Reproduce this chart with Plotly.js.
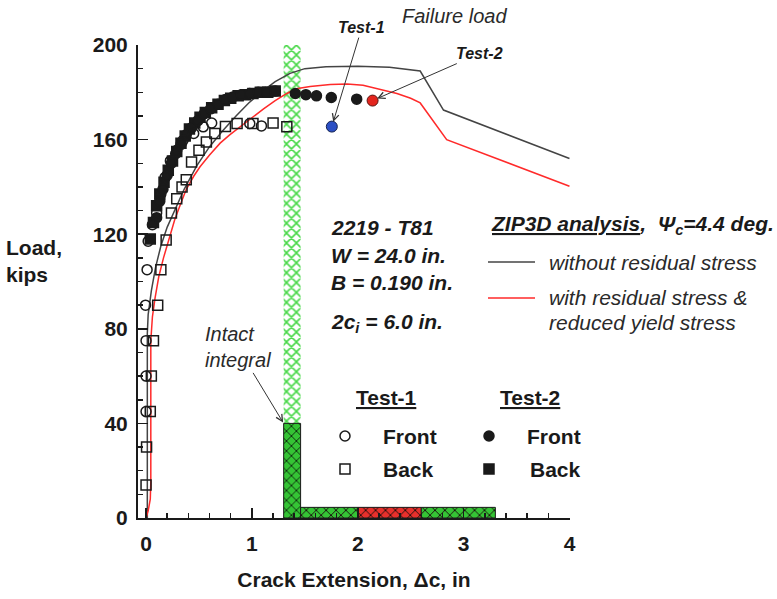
<!DOCTYPE html>
<html>
<head>
<meta charset="utf-8">
<script src="https://cdn.plot.ly/plotly-3.0.1.min.js"></script>
<style>
  html, body { margin: 0; padding: 0; background: #fff; }
  #chart { width: 777px; height: 599px; }
</style>
</head>
<body>
<div id="chart"></div>
<script>
// ---- ZIP3D analysis curves (crack extension in inches, load in kips) ----
const plainX = [0.012, 0.012, 0.02, 0.05, 0.09, 0.14, 0.2, 0.27, 0.36, 0.48, 0.6, 0.72, 0.85, 0.97, 1.1, 1.22, 1.36, 1.5, 1.7, 2.0, 2.3, 2.59, 2.81, 4.0];
const plainLoad = [0, 78, 86, 96, 106, 115, 123, 130, 139, 149, 157, 163.5, 170, 175.5, 180.5, 184.5, 188, 190, 190.8, 191, 190.6, 189, 172.5, 152];

const residualX = [0, 0.02, 0.04, 0.045, 0.045, 0.06, 0.085, 0.12, 0.165, 0.22, 0.27, 0.32, 0.38, 0.45, 0.51, 0.6, 0.7, 0.79, 0.89, 1.0, 1.11, 1.22, 1.33, 1.42, 1.55, 1.74, 1.9, 2.05, 2.2, 2.37, 2.5, 2.59, 2.84, 4.0];
const residualLoad = [0, 3, 8, 15, 75, 85, 93, 102, 110, 119, 126, 132, 139, 144.5, 148.5, 153.5, 158.5, 162, 165.5, 169.5, 173, 176.5, 179.5, 181.5, 182.5, 183.3, 183.5, 183, 181.5, 179.5, 177.5, 175.5, 160, 140.3];

// ---- Test data ----
const test1FrontX = [0.0, 0.0, 0.0, -0.005, 0.01, 0.02, 0.06, 0.1, 0.14, 0.18, 0.23, 0.29, 0.35, 0.45, 0.54, 0.62, 0.98, 1.09];
const test1FrontLoad = [45, 60, 75, 90, 105, 117, 124, 129, 137, 144, 151, 155.5, 159.7, 162.6, 165.4, 167, 166.8, 165.8];

const test1BackX = [0.0, 0.005, 0.04, 0.05, 0.07, 0.11, 0.14, 0.19, 0.24, 0.29, 0.34, 0.38, 0.43, 0.5, 0.57, 0.65, 0.75, 0.86, 1.01, 1.2, 1.33];
const test1BackLoad = [14, 30, 45, 60, 75, 90, 105, 117.5, 129, 135, 140, 143, 150.5, 155.5, 159, 162.6, 165.5, 166.8, 166.8, 167, 165.4];

const test2FrontX = [0.1, 0.13, 0.16, 0.2, 0.24, 0.28, 0.33, 0.38, 0.43, 0.49, 0.55, 0.61, 0.68, 0.75, 0.82, 0.9, 0.98, 1.06, 1.14, 1.22, 1.41, 1.51, 1.61, 1.75, 1.99];
const test2FrontLoad = [127, 134, 139, 145, 150, 154, 158, 162, 165, 168, 171, 173, 175, 177, 178, 179, 179.5, 180, 180, 180.5, 179.5, 179, 178.5, 177.8, 177.1];

const test2BackX = [0.04, 0.07, 0.1, 0.13, 0.17, 0.21, 0.25, 0.29, 0.33, 0.37, 0.41, 0.46, 0.51, 0.56, 0.62, 0.68, 0.74, 0.8, 0.87, 0.94, 1.01, 1.08, 1.15, 1.22];
const test2BackLoad = [118, 125, 132, 137, 142, 147, 151, 155, 158.5, 161.5, 164.5, 167, 169.5, 171.5, 173.5, 175, 176.5, 177.5, 178.5, 179, 179.5, 180, 180, 180.5];

// Failure loads
const failure1 = [1.755, 165.5];
const failure2 = [2.14, 176.5];

// ---- Fracture regions ----
const intactEdges = [1.30, 1.46];     // intact integral strip
const intactLoad = 40;
const bandEdges = [1.46, 2.0, 2.6, 3.3];
const bandColors = ['#35c435', '#e8302c', '#35c435'];
const bandLoad = 4.5;
const yMax = 200;

// ---- Tick labels ----
const xTicks = [0, 1, 2, 3, 4];
const yTicks = [0, 40, 80, 120, 160, 200];

// plot frame in pixels, used for placing text and keys
const FRAME = { l: 138, r: 570, t: 45, b: 518 };
const fx = px => (px - FRAME.l) / (FRAME.r - FRAME.l);
const fy = py => (FRAME.b - py) / (FRAME.b - FRAME.t);

const FONT = 'Liberation Sans, Arial, sans-serif';
const INK = '#1a1a1a';

function rect(x0, x1, y0, y1) {
  return { x: [x0, x1, x1, x0, x0], y: [y0, y0, y1, y1, y0] };
}

const traces = [];

// light hatched strip above the intact integral
const strip = rect(intactEdges[0], intactEdges[1], intactLoad, yMax);
traces.push({
  x: strip.x, y: strip.y, mode: 'lines', fill: 'toself', line: { width: 0, color: 'rgba(0,0,0,0)' },
  fillcolor: 'rgba(0,0,0,0)',
  fillpattern: { shape: 'x', fgcolor: '#48d848', bgcolor: '#ffffff', size: 7, solidity: 0.4 },
  hoverinfo: 'skip', showlegend: false
});

// intact integral bar
const intact = rect(intactEdges[0], intactEdges[1], 0, intactLoad);
traces.push({
  x: intact.x, y: intact.y, mode: 'lines', fill: 'toself', line: { width: 1, color: INK },
  fillcolor: 'rgba(0,0,0,0)',
  fillpattern: { shape: 'x', fgcolor: '#0d2a0d', bgcolor: '#35c435', size: 7, solidity: 0.25 },
  hoverinfo: 'skip', showlegend: false
});

// horizontal fracture bands
for (let i = 0; i < bandColors.length; i++) {
  const r = rect(bandEdges[i], bandEdges[i + 1], 0, bandLoad);
  traces.push({
    x: r.x, y: r.y, mode: 'lines', fill: 'toself', line: { width: 1, color: INK },
    fillcolor: 'rgba(0,0,0,0)',
    fillpattern: { shape: 'x', fgcolor: '#1a0d0d', bgcolor: bandColors[i], size: 7, solidity: 0.25 },
    hoverinfo: 'skip', showlegend: false
  });
}

// analysis curves
traces.push({ x: plainX, y: plainLoad, mode: 'lines', line: { color: '#444', width: 1.5 }, showlegend: false });
traces.push({ x: residualX, y: residualLoad, mode: 'lines', line: { color: '#ff2a2a', width: 1.5 }, showlegend: false });

// test data
const mk = (x, y, symbol) => ({
  x, y, mode: 'markers', showlegend: false,
  marker: { symbol, size: 10, color: INK, line: { color: INK, width: 1.5 } }
});
traces.push(mk(test2BackX, test2BackLoad, 'square'));
traces.push(mk(test2FrontX, test2FrontLoad, 'circle'));
traces.push(mk(test1BackX, test1BackLoad, 'square-open'));
traces.push(mk(test1FrontX, test1FrontLoad, 'circle-open'));

// failure points
traces.push({ x: [failure1[0]], y: [failure1[1]], mode: 'markers', showlegend: false,
  marker: { symbol: 'circle', size: 11, color: '#2b4fc4', line: { color: '#14224f', width: 1 } } });
traces.push({ x: [failure2[0]], y: [failure2[1]], mode: 'markers', showlegend: false,
  marker: { symbol: 'circle', size: 11, color: '#e3251d', line: { color: '#5a1410', width: 1 } } });

// key symbols for the test legend (overlay axes spanning the plot frame)
const keyTrace = (px, py, symbol) => ({
  x: [fx(px)], y: [fy(py)], xaxis: 'x2', yaxis: 'y2', mode: 'markers', showlegend: false,
  marker: { symbol, size: 10, color: INK, line: { color: INK, width: 1.5 } }
});
traces.push(keyTrace(345, 436, 'circle-open'));
traces.push(keyTrace(345, 469, 'square-open'));
traces.push(keyTrace(489, 436, 'circle'));
traces.push(keyTrace(489, 469, 'square'));

const txt = (px, py, text, size, opts = {}) => Object.assign({
  xref: 'paper', yref: 'paper', x: fx(px), y: fy(py), text, showarrow: false,
  xanchor: 'left', yanchor: 'middle', align: 'left',
  font: { family: FONT, size, color: INK }
}, opts);

const annotations = [
  // axis title (horizontal)
  txt(4, 261, '<b>Load,<br>kips</b>', 21),
  // specimen info
  txt(329, 227, '<b><i>2219 - T81</i></b>', 21),
  txt(329, 256, '<b><i>W = 24.0 in.</i></b>', 21),
  txt(329, 282, '<b><i>B = 0.190 in.</i></b>', 21),
  txt(329, 323, '<b><i>2c<sub>i</sub> = 6.0 in.</i></b>', 21),
  // analysis legend
  txt(489, 225, '<b><i><u>ZIP3D analysis</u>,  Ψ<sub>c</sub>=4.4 deg.</i></b>', 21),
  txt(547, 262, '<i>without residual stress</i>', 21, { font: { family: FONT, size: 21, color: '#2a2a2a' } }),
  txt(547, 297, '<i>with residual stress &amp;</i>', 21, { font: { family: FONT, size: 21, color: '#2a2a2a' } }),
  txt(547, 322, '<i>reduced yield stress</i>', 21, { font: { family: FONT, size: 21, color: '#2a2a2a' } }),
  // test legend
  txt(386, 397, '<b><u>Test-1</u></b>', 21, { xanchor: 'center' }),
  txt(530, 397, '<b><u>Test-2</u></b>', 21, { xanchor: 'center' }),
  txt(381, 436, '<b>Front</b>', 21),
  txt(381, 469, '<b>Back</b>', 21),
  txt(525, 436, '<b>Front</b>', 21),
  txt(528, 469, '<b>Back</b>', 21),
  // failure load labels
  txt(400, 16, '<i>Failure load</i>', 20, { font: { family: FONT, size: 20, color: '#2a2a2a' } }),
  {
    x: failure1[0], y: failure1[1], xref: 'x', yref: 'y', text: '<b><i>Test-1</i></b>',
    showarrow: true, arrowhead: 5, arrowsize: 1.3, arrowwidth: 1, arrowcolor: '#333',
    ax: 30, ay: -99, standoff: 5, font: { family: FONT, size: 16, color: INK }
  },
  {
    x: failure2[0], y: failure2[1], xref: 'x', yref: 'y', text: '<b><i>Test-2</i></b>',
    showarrow: true, arrowhead: 5, arrowsize: 1.3, arrowwidth: 1, arrowcolor: '#333',
    ax: 107, ay: -47, standoff: 5, font: { family: FONT, size: 16, color: INK }
  },
  {
    x: intactEdges[0], y: intactLoad, xref: 'x', yref: 'y', text: '<i>Intact<br>integral</i>',
    showarrow: true, arrowhead: 5, arrowsize: 1.3, arrowwidth: 1, arrowcolor: '#333',
    ax: -46, ay: -76, standoff: 1, align: 'left',
    font: { family: FONT, size: 20, color: '#2a2a2a' }
  }
];

const shapes = [
  { type: 'line', xref: 'paper', yref: 'paper', x0: fx(488), x1: fx(535), y0: fy(262), y1: fy(262), line: { color: '#444', width: 1.5 } },
  { type: 'line', xref: 'paper', yref: 'paper', x0: fx(488), x1: fx(535), y0: fy(298), y1: fy(298), line: { color: '#ff2a2a', width: 1.5 } }
];

const axisCommon = {
  showgrid: false, zeroline: false, showline: true, linecolor: INK, linewidth: 2,
  ticks: 'inside', ticklen: 10, tickwidth: 1.5, tickcolor: INK,
  tickfont: { family: FONT, size: 21, color: INK, weight: 'bold' },
  mirror: false
};

const layout = {
  width: 777, height: 599,
  margin: { l: FRAME.l, r: 777 - FRAME.r, t: FRAME.t, b: 599 - FRAME.b },
  paper_bgcolor: '#fff', plot_bgcolor: '#fff',
  showlegend: false,
  xaxis: Object.assign({}, axisCommon, {
    range: [-0.076, 4.005], tickmode: 'array', tickvals: xTicks, ticktext: xTicks.map(String),
    minor: { dtick: 0.2, tick0: 0, ticks: 'inside', ticklen: 5, tickwidth: 1.5, tickcolor: INK },
    ticklabelstandoff: 6,
    title: { text: 'Crack Extension, Δc, in', font: { family: FONT, size: 21, color: INK, weight: 'bold' }, standoff: 18 }
  }),
  yaxis: Object.assign({}, axisCommon, {
    range: [0, 200], tickmode: 'array', tickvals: yTicks, ticktext: yTicks.map(String),
    minor: { dtick: 10, tick0: 0, ticks: 'inside', ticklen: 5, tickwidth: 1.5, tickcolor: INK },
    ticklabelstandoff: 4
  }),
  xaxis2: { overlaying: 'x', range: [0, 1], visible: false, fixedrange: true },
  yaxis2: { overlaying: 'y', range: [0, 1], visible: false, fixedrange: true },
  annotations, shapes
};

Plotly.newPlot('chart', traces, layout, { displayModeBar: false, staticPlot: true });
</script>
</body>
</html>
